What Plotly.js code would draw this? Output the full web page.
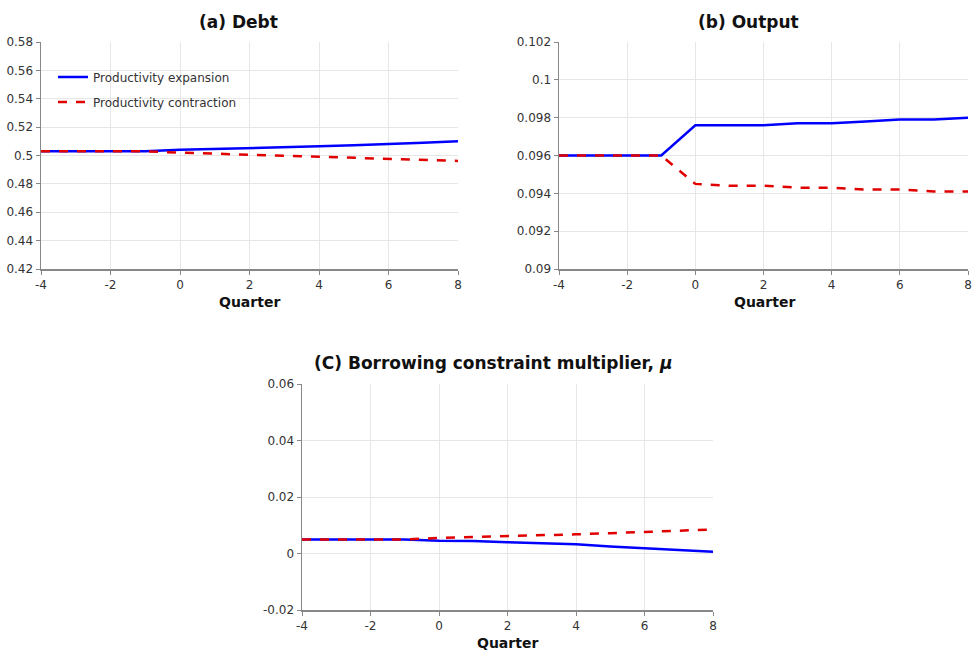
<!DOCTYPE html>
<html><head><meta charset="utf-8">
<script src="https://cdn.plot.ly/plotly-3.0.1.min.js"></script>
<style>body{margin:0;padding:0;background:#fff}#chart{width:972px;height:652px}</style>
</head><body><div id="chart"></div>
<script>
const quarters = [-4,-3,-2,-1,0,1,2,3,4,5,6,7,8];
const debtExpansion   = [0.503,0.503,0.503,0.503,0.504,0.5045,0.505,0.5058,0.5065,0.5073,0.508,0.509,0.510];
const debtContraction = [0.503,0.503,0.503,0.503,0.502,0.5013,0.5005,0.5,0.4992,0.4985,0.4978,0.497,0.4962];
const outExpansion    = [0.096,0.096,0.096,0.096,0.0976,0.0976,0.0976,0.0977,0.0977,0.0978,0.0979,0.0979,0.098];
const outContraction  = [0.096,0.096,0.096,0.096,0.0945,0.0944,0.0944,0.0943,0.0943,0.0942,0.0942,0.0941,0.0941];
const muExpansion     = [0.005,0.005,0.005,0.005,0.0045,0.0044,0.004,0.0036,0.0033,0.0025,0.0018,0.0012,0.0006];
const muContraction   = [0.005,0.005,0.005,0.005,0.0055,0.0058,0.006,0.0065,0.0068,0.0072,0.0076,0.008,0.0085];
const seriesNames = ["Productivity expansion","Productivity contraction"];
const panelTitles = ["(a) Debt","(b) Output","(C) Borrowing constraint multiplier, <i>μ</i>"];
const xTitle = "Quarter";

const xTickVals = [-4,-2,0,2,4,6,8];
const xTickText = ["-4","-2","0","2","4","6","8"];
const debtTickVals = [0.42,0.44,0.46,0.48,0.5,0.52,0.54,0.56,0.58];
const debtTickText = ["0.42","0.44","0.46","0.48","0.5","0.52","0.54","0.56","0.58"];
const outTickVals = [0.09,0.092,0.094,0.096,0.098,0.1,0.102];
const outTickText = ["0.09","0.092","0.094","0.096","0.098","0.1","0.102"];
const muTickVals = [-0.02,0,0.02,0.04,0.06];
const muTickText = ["-0.02","0","0.02","0.04","0.06"];

const FONT = "DejaVu Sans, Verdana, sans-serif";
const blue = {color:"#0000ff", width:2.5};
const red = {color:"#e00000", width:2.5, dash:"dash"};

function pair(xa, ya, exp, con, showLeg){
  return [
    {x:quarters, y:exp, xaxis:xa, yaxis:ya, mode:"lines", line:blue, name:seriesNames[0], showlegend:showLeg, legend:"legend"},
    {x:quarters, y:con, xaxis:xa, yaxis:ya, mode:"lines", line:red, name:seriesNames[1], showlegend:showLeg, legend:"legend2"}
  ];
}
const data = [].concat(
  pair("x","y",debtExpansion,debtContraction,true),
  pair("x2","y2",outExpansion,outContraction,false),
  pair("x3","y3",muExpansion,muContraction,false)
);

const W=972,H=652;
function xd(a,b){return [a/W,b/W];}
function yd(top,bot){return [1-bot/H,1-top/H];}
const axCommon = {
  showgrid:true, gridcolor:"#e6e6e6", gridwidth:1,
  showline:true, linecolor:"#888", linewidth:1.5,
  ticks:"outside", ticklen:4, tickcolor:"#888", tickwidth:1,
  zeroline:false, tickfont:{family:FONT,size:12,color:"#333"}, tickmode:"array"
};
function xax(dom, anchor){return Object.assign({},axCommon,{domain:dom, anchor:anchor, range:[-4,8], tickvals:xTickVals, ticktext:xTickText});}
function yax(dom, anchor, rng, tv, tt){return Object.assign({},axCommon,{domain:dom, anchor:anchor, range:rng, tickvals:tv, ticktext:tt});}

const legFont = {family:FONT,size:12,color:"#333"};
const titleFont = {family:FONT,size:17,color:"#111",weight:"bold"};
const axTitleFont = {family:FONT,size:14,color:"#111",weight:"bold"};
function ann(text,x,y,font){return {text:text, x:x/W, y:1-y/H, xref:"paper", yref:"paper", xanchor:"center", yanchor:"middle", showarrow:false, font:font};}

const layout = {
  width:W, height:H, margin:{l:0,r:0,t:0,b:0},
  paper_bgcolor:"#fff", plot_bgcolor:"#fff",
  font:{family:FONT, color:"#333"},
  xaxis: xax(xd(41,458),"y"),
  yaxis: yax(yd(42,269),"x",[0.42,0.58],debtTickVals,debtTickText),
  xaxis2: xax(xd(559,968),"y2"),
  yaxis2: yax(yd(42,269),"x2",[0.09,0.102],outTickVals,outTickText),
  xaxis3: xax(xd(302,713),"y3"),
  yaxis3: yax(yd(384,610),"x3",[-0.02,0.06],muTickVals,muTickText),
  showlegend:true,
  legend:{x:53/W, y:1-77/H, xanchor:"left", yanchor:"middle", bgcolor:"rgba(0,0,0,0)", borderwidth:0, font:legFont, itemwidth:30},
  legend2:{x:53/W, y:1-102/H, xanchor:"left", yanchor:"middle", bgcolor:"rgba(0,0,0,0)", borderwidth:0, font:legFont, itemwidth:30},
  annotations:[
    ann(panelTitles[0],238,22,titleFont),
    ann(panelTitles[1],748,22,titleFont),
    ann(panelTitles[2],493,363,titleFont),
    ann(xTitle,249,302,axTitleFont),
    ann(xTitle,764,302,axTitleFont),
    ann(xTitle,507,643,axTitleFont)
  ]
};
Plotly.newPlot("chart", data, layout, {displayModeBar:false, staticPlot:true});
</script></body></html>
